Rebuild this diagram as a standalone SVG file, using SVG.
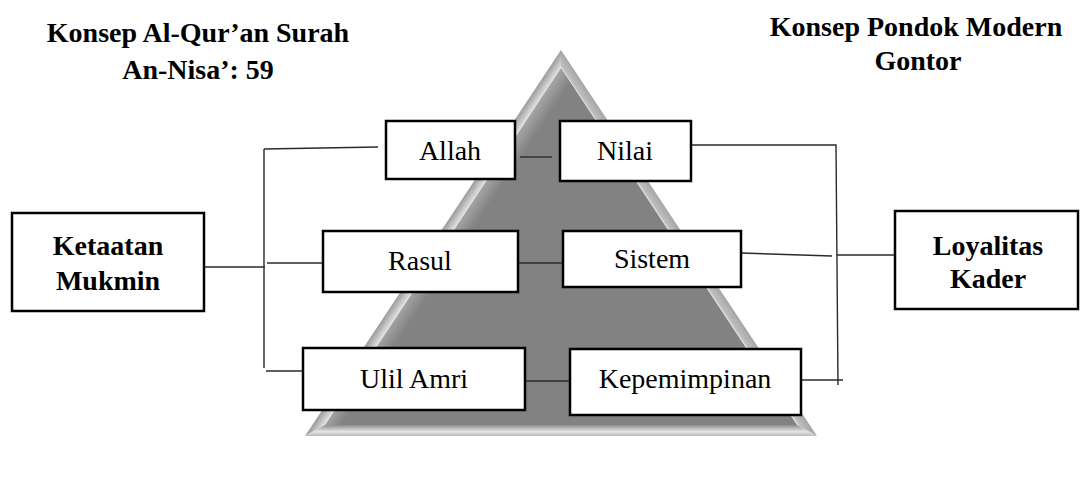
<svg xmlns="http://www.w3.org/2000/svg" width="1084" height="486" viewBox="0 0 1084 486" font-family="Liberation Serif, DejaVu Serif, serif">
  <style>
    .box { fill: #ffffff; stroke: #000000; stroke-width: 2.5; }
    .lbl { font-size: 28px; fill: #000000; text-anchor: middle; }
    .bold { font-weight: bold; }
    .conn { stroke: #2a2a2a; stroke-width: 1.4; fill: none; }
  </style>
  <defs>
    <!-- bevel shading for the pyramid faces -->
    <linearGradient id="bevelLeft" gradientUnits="userSpaceOnUse" x1="433" y1="243" x2="441.3" y2="248.5">
      <stop offset="0" stop-color="#9a9a9a"/>
      <stop offset="1" stop-color="#e2e2e2"/>
    </linearGradient>
    <linearGradient id="bevelRight" gradientUnits="userSpaceOnUse" x1="689" y1="243" x2="680.7" y2="248.5">
      <stop offset="0" stop-color="#a6a6a6"/>
      <stop offset="0.8" stop-color="#bdbdbd"/>
      <stop offset="1" stop-color="#dcdcdc"/>
    </linearGradient>
    <linearGradient id="bevelBottom" x1="0" y1="0" x2="0" y2="1">
      <stop offset="0" stop-color="#8e8e8e"/>
      <stop offset="0.6" stop-color="#e4e4e4"/>
      <stop offset="1" stop-color="#bcbcbc"/>
    </linearGradient>
    <linearGradient id="faceSheen" gradientUnits="userSpaceOnUse" x1="441.3" y1="248.5" x2="454" y2="257">
      <stop offset="0" stop-color="#a4a4a4"/>
      <stop offset="1" stop-color="#828282"/>
    </linearGradient>
  </defs>

  <!-- bevelled pyramid in the background -->
  <g id="pyramid">
    <polygon points="561,68 325,425 797,425" fill="#828282"/>
    <polygon points="561,68 325,425 797,425" fill="url(#faceSheen)"/>
    <polygon points="561,50 305,436 325,425 561,68" fill="url(#bevelLeft)"/>
    <polygon points="561,50 561,68 797,425 817,436" fill="url(#bevelRight)"/>
    <polygon points="325,425 797,425 817,436 305,436" fill="url(#bevelBottom)"/>
  </g>

  <!-- headings -->
  <g id="heading-left">
    <text class="lbl bold" x="198" y="42">Konsep Al-Qur’an Surah</text>
    <text class="lbl bold" x="198" y="79">An-Nisa’: 59</text>
  </g>
  <g id="heading-right">
    <text class="lbl bold" x="916" y="36">Konsep Pondok Modern</text>
    <text class="lbl bold" x="918" y="70">Gontor</text>
  </g>

  <!-- connectors -->
  <g id="connectors">
    <!-- left bracket -->
    <line class="conn" x1="264" y1="149" x2="378" y2="147"/>
    <line class="conn" x1="264" y1="149" x2="264" y2="368"/>
    <line class="conn" x1="204" y1="267" x2="265" y2="267"/>
    <line class="conn" x1="267" y1="263" x2="323" y2="263"/>
    <line class="conn" x1="266" y1="371" x2="303" y2="371"/>
    <!-- links across the pyramid -->
    <line class="conn" x1="520" y1="157" x2="552" y2="157"/>
    <line class="conn" x1="518" y1="263" x2="563" y2="263"/>
    <line class="conn" x1="525" y1="381" x2="570" y2="381"/>
    <!-- right bracket -->
    <polyline class="conn" points="691,145 836,145 838,385"/>
    <line class="conn" x1="741" y1="253" x2="832" y2="256"/>
    <line class="conn" x1="837" y1="255" x2="895" y2="255"/>
    <line class="conn" x1="801" y1="380" x2="843" y2="380"/>
  </g>

  <!-- nodes -->
  <g id="ketaatan-mukmin">
    <rect class="box" x="12" y="213" width="192" height="98"/>
    <text class="lbl bold" x="108" y="255">Ketaatan</text>
    <text class="lbl bold" x="108" y="290">Mukmin</text>
  </g>
  <g id="allah">
    <rect class="box" x="386" y="121" width="129" height="58"/>
    <text class="lbl" x="450" y="160">Allah</text>
  </g>
  <g id="rasul">
    <rect class="box" x="323" y="231" width="195" height="61"/>
    <text class="lbl" x="420" y="270">Rasul</text>
  </g>
  <g id="ulil-amri">
    <rect class="box" x="303" y="348" width="222" height="62"/>
    <text class="lbl" x="414" y="388">Ulil Amri</text>
  </g>
  <g id="nilai">
    <rect class="box" x="560" y="121" width="131" height="60"/>
    <text class="lbl" x="625" y="160">Nilai</text>
  </g>
  <g id="sistem">
    <rect class="box" x="563" y="231" width="178" height="56"/>
    <text class="lbl" x="652" y="268">Sistem</text>
  </g>
  <g id="kepemimpinan">
    <rect class="box" x="570" y="349" width="231" height="66"/>
    <text class="lbl" x="685" y="388">Kepemimpinan</text>
  </g>
  <g id="loyalitas-kader">
    <rect class="box" x="895" y="211" width="183" height="98"/>
    <text class="lbl bold" x="988" y="255">Loyalitas</text>
    <text class="lbl bold" x="988" y="288">Kader</text>
  </g>
</svg>
